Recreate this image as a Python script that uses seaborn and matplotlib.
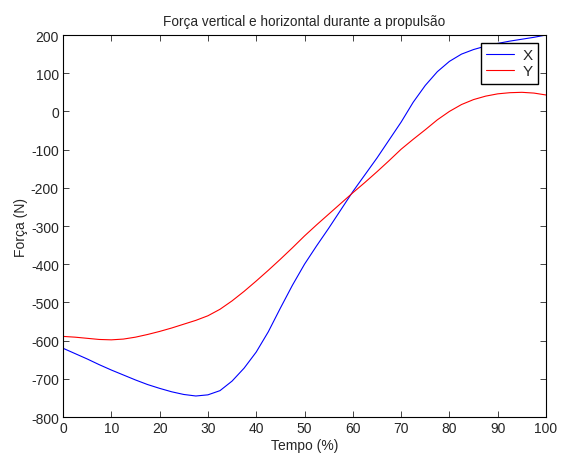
import pandas as pd
import matplotlib.pyplot as plt
import seaborn as sns

# Values (every 2.5 %)
tempo = [0, 2.5, 5, 7.5, 10, 12.5, 15, 17.5, 20, 22.5, 25, 27.5, 30, 32.5, 35, 37.5,
         40, 42.5, 45, 47.5, 50, 52.5, 55, 57.5, 60, 62.5, 65, 67.5, 70, 72.5, 75,
         77.5, 80, 82.5, 85, 87.5, 90, 92.5, 95, 97.5, 100]
forca_x = [-620, -634, -648, -663, -677, -690, -703, -715, -725, -734, -741, -745, -742, -731, -706, -672,
           -630, -577, -515, -455, -400, -352, -306, -258, -210, -166, -122, -75, -28, 24, 68,
           104, 131, 150, 162, 171, 178, 184, 189, 194, 200]
forca_y = [-589, -591, -594, -597, -598, -596, -591, -584, -576, -567, -557, -547, -535, -518, -496, -471,
           -444, -416, -387, -357, -326, -297, -269, -241, -213, -186, -158, -129, -99, -73, -48,
           -22, 0, 18, 31, 40, 46, 49, 50, 48, 43]

data = pd.DataFrame({
    "Tempo": tempo * 2,
    "Forca": forca_x + forca_y,
    "Serie": ["X"] * len(tempo) + ["Y"] * len(tempo),
})

sns.set_style("ticks", {"xtick.direction": "in", "ytick.direction": "in"})
plt.rcParams["font.family"] = ["Liberation Sans", "DejaVu Sans"]
plt.rcParams["axes.unicode_minus"] = False

fig = plt.figure(figsize=(5.61, 4.60), dpi=100)
ax = fig.add_axes([0.1123, 0.0913, 0.8610, 0.8304])

sns.lineplot(data=data, x="Tempo", y="Forca", hue="Serie",
             palette={"X": "#0000ff", "Y": "#ff0000"}, linewidth=0.8, ax=ax)

ax.set_xlim(0, 100)
ax.set_ylim(-800, 200)
ax.set_xticks(range(0, 101, 10))
ax.set_yticks(range(-800, 201, 100))
ax.tick_params(axis="both", labelsize=10, length=4, width=0.6, top=True, right=True, pad=3)
for s in ax.spines.values():
    s.set_visible(True)
    s.set_linewidth(0.8)
    s.set_color("black")

ax.set_title("Força vertical e horizontal durante a propulsão", fontsize=9.8, pad=7)
ax.set_xlabel("Tempo (%)", fontsize=10, labelpad=2)
ax.set_ylabel("Força (N)", fontsize=10, labelpad=2)

handles, labels = ax.get_legend_handles_labels()
leg = ax.legend(handles, labels, loc="upper right", fontsize=11, fancybox=False,
                framealpha=1, edgecolor="black", handlelength=1.8, handletextpad=0.6,
                borderaxespad=0.5, labelspacing=0.15, borderpad=0.35)
leg.get_frame().set_linewidth(1.0)

fig.savefig("out.png", dpi=100)
